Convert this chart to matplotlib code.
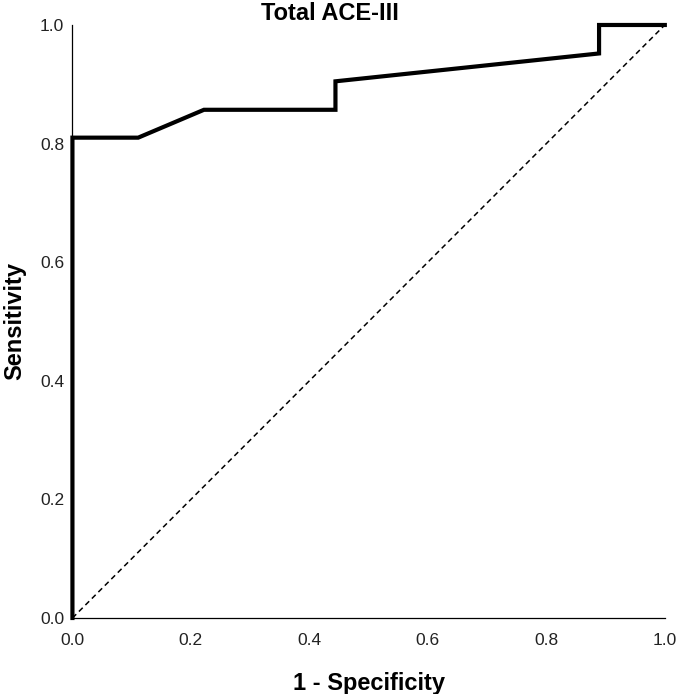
import matplotlib
matplotlib.use('Agg')
import matplotlib.pyplot as plt

plt.rcParams['font.family'] = ['Liberation Sans', 'DejaVu Sans']

# ROC coordinates
fpr = [0.0, 0.0, 0.111, 0.222, 0.444, 0.444, 0.889, 0.889, 1.0]
tpr = [0.0, 0.810, 0.810, 0.857, 0.857, 0.905, 0.952, 1.0, 1.0]
ref = [0.0, 1.0]
ticks = [0.0, 0.2, 0.4, 0.6, 0.8, 1.0]

fig = plt.figure(figsize=(6.77, 6.94), dpi=100)
ax = fig.add_axes([0.107, 0.1095, 0.875, 0.8545])

ax.plot(ref, ref, color='black', lw=1.1, ls=(0, (3.5, 2.5)), clip_on=False)
ax.plot(fpr, tpr, color='black', lw=3.0, solid_joinstyle='miter', clip_on=False)

ax.set_xlim(0, 1)
ax.set_ylim(0, 1)
ax.set_xticks(ticks)
ax.set_yticks(ticks)
ax.set_xticklabels(['%.1f' % t for t in ticks])
ax.set_yticklabels(['%.1f' % t for t in ticks])
ax.tick_params(axis='both', length=0, labelsize=12.5, colors='#222222')
ax.tick_params(axis='x', pad=11)
ax.tick_params(axis='y', pad=6)

for s in ['top', 'right']:
    ax.spines[s].set_visible(False)
for s in ['left', 'bottom']:
    ax.spines[s].set_linewidth(0.9)

t = ax.set_title('Total ACE-III', fontsize=17, fontweight='bold', pad=1)
t.set_x(0.435)
ax.set_xlabel('1 - Specificity', fontsize=17, fontweight='bold', labelpad=17)
ax.set_ylabel('Sensitivity', fontsize=17, fontweight='bold', labelpad=10)

fig.savefig('out.png', dpi=100)
